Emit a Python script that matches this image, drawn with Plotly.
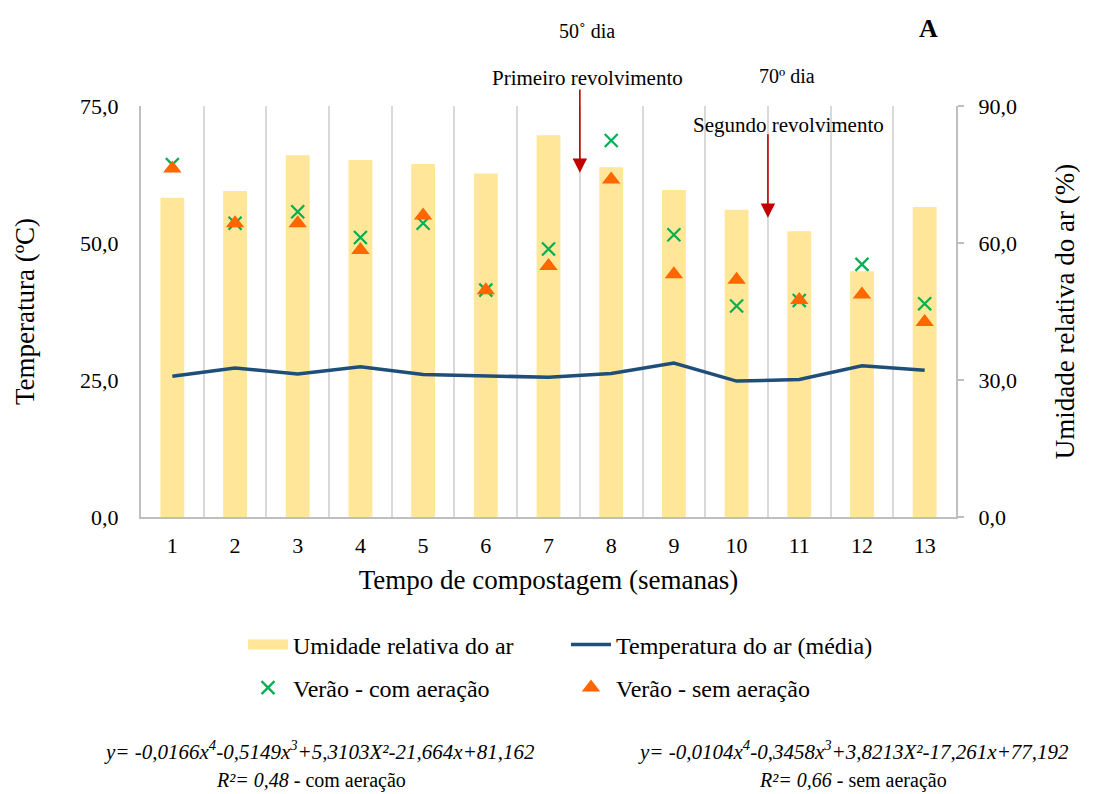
import plotly.graph_objects as go

# Weekly data for the composting trial
semanas = list(range(1, 14))
umidade_ar = [69.9, 71.4, 79.2, 78.2, 77.3, 75.2, 83.6, 76.6, 71.6, 67.3, 62.6, 53.8, 67.9]
temp_ar = [25.7, 27.2, 26.1, 27.4, 26.0, 25.7, 25.5, 26.2, 28.1, 24.8, 25.1, 27.6, 26.8]
com_aeracao = [64.3, 53.6, 55.7, 51.0, 53.6, 41.4, 48.9, 68.7, 51.5, 38.5, 39.5, 46.1, 38.9]
sem_aeracao = [63.6, 53.6, 53.6, 48.7, 55.0, 41.4, 45.8, 61.6, 44.3, 43.3, 39.6, 40.6, 35.6]

temp_ticks = [0, 25, 50, 75]
temp_ticktext = ["0,0", "25,0", "50,0", "75,0"]
umid_ticks = [0, 30, 60, 90]
umid_ticktext = ["0,0", "30,0", "60,0", "90,0"]

# Turning events: week boundary, arrow tip and tail (temperature scale)
revolvimento_x = [7.5, 10.5]
revolvimento_tip = [62.8, 54.6]
revolvimento_tail = [78.3, 70.1]

FONT = "Liberation Serif"
GRID = "#D9D9D9"
AXIS = "#BFBFBF"
BAR_COLOR = "#FFE699"

fig = go.Figure()

fig.add_trace(go.Bar(
    x=semanas, y=umidade_ar, name="Umidade relativa do ar",
    marker=dict(color=BAR_COLOR, line=dict(width=0)), width=0.38,
    yaxis="y", showlegend=False,
))
# wide swatch for the humidity bars in the legend
fig.add_trace(go.Scatter(
    x=[None], y=[None], name="Umidade relativa do ar", mode="lines",
    line=dict(color=BAR_COLOR, width=12), yaxis="y", legend="legend",
))
fig.add_trace(go.Scatter(
    x=semanas, y=temp_ar, name="Temperatura do ar (média)", mode="lines",
    line=dict(color="#1F4E79", width=3.5), yaxis="y2", legend="legend",
))
fig.add_trace(go.Scatter(
    x=semanas, y=com_aeracao, name="Verão - com aeração", mode="markers",
    marker=dict(symbol="x-thin", size=13, line=dict(color="#00B050", width=2.2), color="#00B050"),
    yaxis="y2", legend="legend2",
))
fig.add_trace(go.Scatter(
    x=semanas, y=sem_aeracao, name="Verão - sem aeração", mode="markers",
    marker=dict(symbol="triangle-up", size=16, color="#FF6600", line=dict(width=0)),
    yaxis="y2", legend="legend2",
))

annotations = []
for xv, tip, tail in zip(revolvimento_x, revolvimento_tip, revolvimento_tail):
    annotations.append(dict(
        x=xv, y=tip, ax=xv, ay=tail, xref="x", yref="y2", axref="x", ayref="y2",
        text="", showarrow=True, arrowhead=2, arrowsize=1.8, arrowwidth=1.6,
        arrowcolor="#C00000",
    ))


def px_x(px):
    return (px - 141) / 815


def px_y(py):
    return (517 - py) / 411


def label(text, px, py, size=21, **kw):
    annotations.append(dict(
        text=text, x=px_x(px), y=px_y(py), xref="paper", yref="paper",
        showarrow=False, xanchor="center", yanchor="middle",
        font=dict(family=FONT, size=size, color="black"), **kw,
    ))


label("50˚ dia", 587, 31, size=20)
label("Primeiro revolvimento", 587, 78)
label("70º dia", 787, 76, size=20)
label("Segundo revolvimento", 788, 125)
label("<b>A</b>", 928, 28, size=26)

label("<i>y= -0,0166x<sup>4</sup>-0,5149x<sup>3</sup>+5,3103X²-21,664x+81,162</i>", 319, 750, size=21)
label("<i>R²= 0,48</i> - com aeração", 311, 780, size=20)
label("<i>y= -0,0104x<sup>4</sup>-0,3458x<sup>3</sup>+3,8213X²-17,261x+77,192</i>", 853, 750, size=21)
label("<i>R²= 0,66</i> - sem aeração", 853, 780, size=20)

fig.update_layout(
    width=1100, height=794,
    margin=dict(l=141, r=144, t=106, b=277),
    paper_bgcolor="white", plot_bgcolor="white",
    font=dict(family=FONT, size=22, color="black"),
    barmode="overlay",
    xaxis=dict(
        range=[0.5, 13.5], tickmode="array", tickvals=semanas,
        ticktext=[str(s) for s in semanas], showgrid=False, zeroline=False,
        showline=True, linecolor=AXIS, linewidth=2, ticks="",
        tickfont=dict(size=22), ticklabelstandoff=8,
        minor=dict(tickvals=[s + 0.5 for s in semanas[:-1]], showgrid=True,
                   gridcolor=GRID, gridwidth=2),
        title=dict(text="Tempo de compostagem (semanas)", font=dict(size=27), standoff=13),
    ),
    yaxis=dict(
        side="right", range=[0, 90], tickmode="array", tickvals=umid_ticks,
        ticktext=umid_ticktext, showgrid=False, zeroline=False,
        showline=True, linecolor=AXIS, linewidth=2,
        ticks="outside", ticklen=6, tickcolor=AXIS, tickwidth=2,
        tickfont=dict(size=22), ticklabelstandoff=10,
        title=dict(text="Umidade relativa do ar (%)", font=dict(size=27), standoff=39),
    ),
    yaxis2=dict(
        side="left", overlaying="y", range=[0, 75], tickmode="array",
        tickvals=temp_ticks, ticktext=temp_ticktext, showgrid=False,
        zeroline=False, showline=True, linecolor=AXIS, linewidth=2, ticks="",
        tickfont=dict(size=22), ticklabelstandoff=16,
        title=dict(text="Temperatura (ºC)", font=dict(size=27), standoff=38),
    ),
    legend=dict(
        orientation="h", x=px_x(243), y=px_y(645), xanchor="left", yanchor="middle",
        entrywidth=268, entrywidthmode="pixels", font=dict(size=24),
        bgcolor="rgba(0,0,0,0)", itemwidth=40,
    ),
    legend2=dict(
        orientation="h", x=px_x(243), y=px_y(688), xanchor="left", yanchor="middle",
        entrywidth=268, entrywidthmode="pixels", font=dict(size=24),
        bgcolor="rgba(0,0,0,0)", itemwidth=40,
    ),
    annotations=annotations,
    showlegend=True,
)

fig.write_html("out.html")
